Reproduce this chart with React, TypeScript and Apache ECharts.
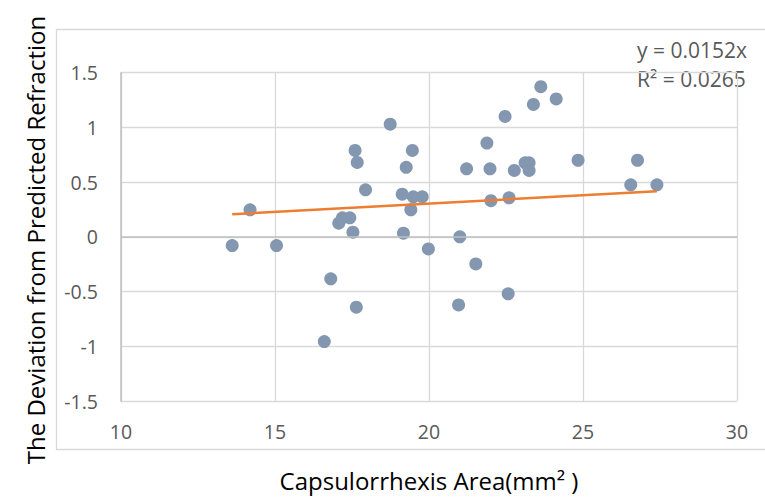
import React, { useEffect, useRef } from 'react';
import * as echarts from 'echarts';

const areaValues = [
  13.61, 14.19, 15.05, 16.6, 16.81, 17.07, 17.19, 17.43, 17.53, 17.6, 17.64,
  17.67, 17.94, 18.74, 19.13, 19.17, 19.26, 19.41, 19.46, 19.49, 19.78, 19.98,
  20.96, 21.0, 21.22, 21.52, 21.88, 21.98, 22.01, 22.47, 22.57, 22.6, 22.77,
  23.12, 23.25, 23.25, 23.39, 23.63, 24.13, 24.84, 26.55, 26.77, 27.4,
];
const deviationValues = [
  -0.08, 0.247, -0.08, -0.957, -0.384, 0.125, 0.174, 0.174, 0.043, 0.79, -0.643,
  0.68, 0.43, 1.03, 0.39, 0.034, 0.635, 0.247, 0.79, 0.366, 0.366, -0.11,
  -0.622, 0.0, 0.622, -0.247, 0.857, 0.622, 0.33, 1.1, -0.52, 0.357, 0.607,
  0.677, 0.677, 0.607, 1.21, 1.372, 1.26, 0.7, 0.476, 0.7, 0.476,
];
const trendSlope = 0.0152;
const trendXRange = [13.61, 27.4];
const equationText = 'y = 0.0152x';
const r2Text = 'R² = 0.0265';
const xAxisTitle = 'Capsulorrhexis Area(mm² )';
const yAxisTitle = 'The Deviation from Predicted Refraction';

const FONT = '"Open Sans", sans-serif';

export default function App() {
  const ref = useRef<HTMLDivElement>(null);
  useEffect(() => {
    const chart = echarts.init(ref.current!, null, { renderer: 'svg' });
    const points = areaValues.map((x, i) => [x, deviationValues[i]]);
    const trend = trendXRange.map((x) => [x, trendSlope * x]);
    chart.setOption({
      animation: false,
      backgroundColor: '#ffffff',
      grid: { left: 121, right: 28, top: 72.7, bottom: 96 },
      xAxis: {
        type: 'value',
        min: 10,
        max: 30,
        interval: 5,
        axisLine: { show: false, onZero: false },
        axisTick: { show: false },
        axisLabel: { color: '#595959', fontSize: 19.5, fontFamily: FONT, margin: 20 },
        splitLine: { show: true, lineStyle: { color: '#d9d9d9', width: 1.3 } },
      },
      yAxis: {
        type: 'value',
        min: -1.5,
        max: 1.5,
        interval: 0.5,
        axisLine: { show: true, onZero: false, lineStyle: { color: '#bfbfbf', width: 1.5 } },
        axisTick: { show: false },
        axisLabel: { color: '#595959', fontSize: 19.5, fontFamily: FONT, margin: 23 },
        splitLine: { show: true, lineStyle: { color: '#d9d9d9', width: 1.3 } },
      },
      series: [
        {
          type: 'scatter',
          data: points,
          symbol: 'circle',
          symbolSize: 13,
          itemStyle: { color: '#8497b0', opacity: 1 },
          markLine: {
            silent: true,
            symbol: 'none',
            label: { show: false },
            lineStyle: { color: '#bfbfbf', width: 1.5, type: 'solid' },
            data: [{ yAxis: 0 }],
          },
          z: 2,
        },
        {
          type: 'line',
          data: trend,
          symbol: 'none',
          lineStyle: { color: '#ed7d31', width: 2.5 },
          z: 3,
        },
      ],
      graphic: [
        {
          type: 'rect',
          shape: { x: 56.5, y: 29.5, width: 760, height: 420 },
          style: { fill: 'none', stroke: '#d9d9d9', lineWidth: 1.3 },
          silent: true,
          z: -1,
        },
        {
          type: 'text',
          x: 637,
          y: 50,
          style: {
            text: equationText,
            font: `21px ${FONT}`,
            fill: '#595959',
            verticalAlign: 'middle',
          },
        },
        {
          type: 'text',
          x: 637,
          y: 79,
          style: {
            text: r2Text,
            font: `21px ${FONT}`,
            fill: '#595959',
            verticalAlign: 'middle',
          },
        },
        {
          type: 'text',
          x: 429,
          y: 480,
          style: {
            text: xAxisTitle,
            font: `24px ${FONT}`,
            fill: '#000000',
            align: 'center',
            verticalAlign: 'middle',
          },
        },
        {
          type: 'text',
          x: 35,
          y: 240,
          rotation: Math.PI / 2,
          style: {
            text: yAxisTitle,
            font: `24px ${FONT}`,
            fill: '#000000',
            align: 'center',
            verticalAlign: 'middle',
          },
        },
      ],
    });
    return () => chart.dispose();
  }, []);
  return (
    <div
      ref={ref}
      style={{ width: 765, height: 497, position: 'fixed', left: 0, top: 0 }}
    />
  );
}
